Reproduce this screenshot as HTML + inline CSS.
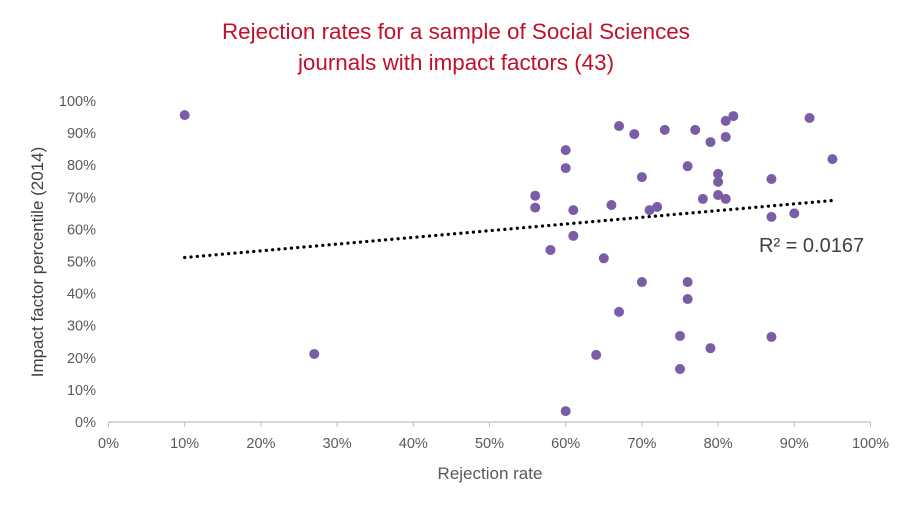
<!DOCTYPE html>
<html><head><meta charset="utf-8"><style>
html,body{margin:0;padding:0;background:#fff;}
svg{display:block;font-family:"Liberation Sans",sans-serif;}
</style></head><body>
<svg id="chart" width="912" height="509" viewBox="0 0 912 509">
<text x="456" y="39" text-anchor="middle" font-size="22.4" fill="#c0102a">Rejection rates for a sample of Social Sciences</text>
<text x="456" y="70" text-anchor="middle" font-size="22.4" fill="#c0102a">journals with impact factors (43)</text>
<g id="axes"></g>
<g id="marks"></g>
<text x="490" y="479" text-anchor="middle" font-size="17" fill="#595959">Rejection rate</text>
<text transform="translate(43,262) rotate(-90)" text-anchor="middle" font-size="17" fill="#404040">Impact factor percentile (2014)</text>
<text x="759" y="252" font-size="20" fill="#404040">R² = 0.0167</text>
</svg>
<script>
const rejection=[10,27,60,60,56,56,58,61,61,60,64,65,66,67,67,69,70,70,71,72,73,75,75,76,76,76,77,78,79,79,80,80,80,81,81,81,82,87,87,87,90,92,95];
const impact=[95.6,21.2,84.7,79.1,70.5,66.8,53.6,66,58,3.4,20.9,51,67.6,92.2,34.3,89.7,76.3,43.6,66,67,91,26.8,16.5,79.7,43.6,38.3,91,69.5,87.2,23,77.3,74.8,70.7,93.8,88.8,69.5,95.3,75.7,63.9,26.5,65,94.7,81.9];
const xTicks=[0,10,20,30,40,50,60,70,80,90,100];
const yTicks=[0,10,20,30,40,50,60,70,80,90,100];
const NS="http://www.w3.org/2000/svg";
const X=v=>108.5+v*7.62, Y=v=>422-v*3.21;
const axes=document.getElementById('axes'), marks=document.getElementById('marks');
function mk(tag,attrs,parent){const e=document.createElementNS(NS,tag);for(const k in attrs)e.setAttribute(k,attrs[k]);parent.appendChild(e);return e;}
let ax=mk('line',{x1:X(0),x2:X(100),y1:422,y2:422,stroke:'#bfbfbf','stroke-width':1.3},axes);


xTicks.forEach(t=>{
 let l=mk('line',{x1:X(t),x2:X(t),y1:422,y2:427,stroke:'#bfbfbf'},axes);
 
 
 let tx=mk('text',{x:X(t),y:448,'text-anchor':'middle','font-size':14.5,fill:'#595959'},axes);tx.textContent=t+'%';
 
 
});
yTicks.forEach(t=>{
 let tx=mk('text',{x:96,y:Y(t)+5,'text-anchor':'end','font-size':14.5,fill:'#595959'},axes);tx.textContent=t+'%';
 
 
});
const n=rejection.length;let sx=0,sy=0,sxx=0,sxy=0;
for(let i=0;i<n;i++){sx+=rejection[i];sy+=impact[i];sxx+=rejection[i]*rejection[i];sxy+=rejection[i]*impact[i];}
const b=(n*sxy-sx*sy)/(n*sxx-sx*sx),a=(sy-b*sx)/n;
const x0=Math.min(...rejection),x1=Math.max(...rejection);
let tl=mk('line',{x1:X(x0),y1:Y(a+b*x0),x2:X(x1),y2:Y(a+b*x1),stroke:'#000','stroke-width':3.2,'stroke-dasharray':'0.1 6.2','stroke-linecap':'round'},marks);


for(let i=0;i<n;i++){
 let c=mk('circle',{cx:X(rejection[i]),cy:Y(impact[i]),r:5,fill:'#7b5ca6'},marks);
 
 
}
</script>
</body></html>
